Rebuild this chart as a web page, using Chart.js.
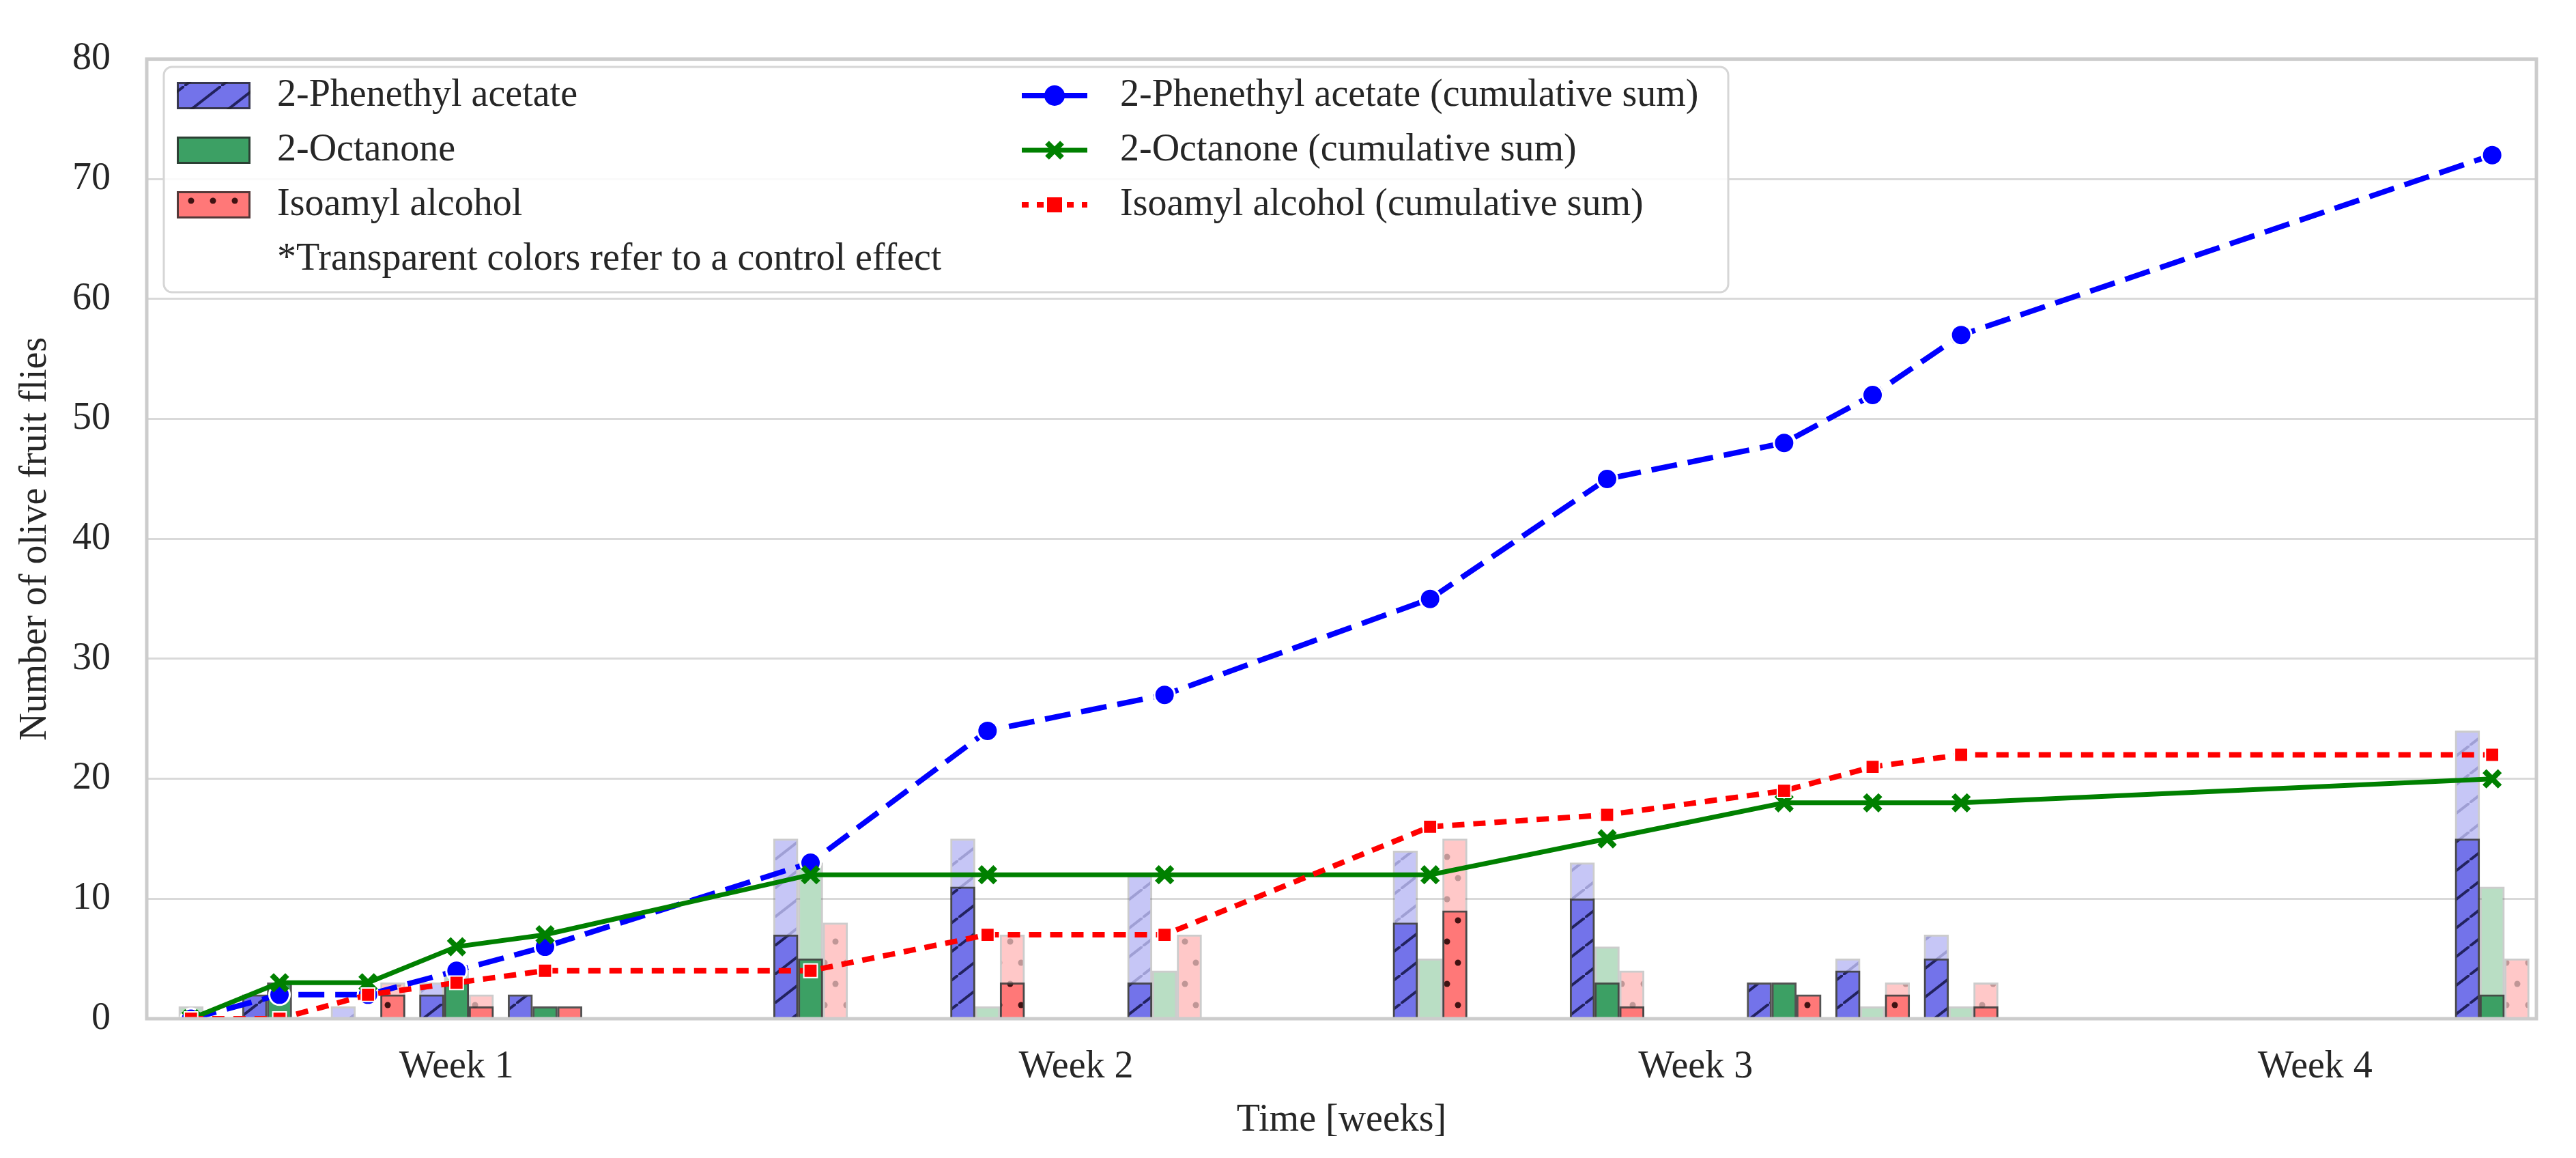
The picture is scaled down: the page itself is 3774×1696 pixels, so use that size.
<!DOCTYPE html>
<html>
<head>
<meta charset="utf-8">
<script src="https://cdn.jsdelivr.net/npm/chart.js@4.4.1/dist/chart.umd.min.js"></script>
<style>
  html, body { margin: 0; padding: 0; background: #ffffff; }
  #chart { display: block; }
</style>
</head>
<body>
<canvas id="chart" width="3774" height="1696"></canvas>
<script>
// Sampling days (x axis is in days, labelled by week)
const days = [0, 1, 2, 3, 4, 7, 9, 11, 14, 16, 18, 19, 20, 26];

// Flies caught per sampling day (treatment, solid bars)
const phenethylCounts = [0, 2, 0, 2, 2, 7, 11, 3, 8, 10, 3, 4, 5, 15];
const octanoneCounts  = [0, 3, 0, 3, 1, 5, 0, 0, 0, 3, 3, 0, 0, 2];
const isoamylCounts   = [0, 0, 2, 1, 1, 0, 3, 0, 9, 1, 2, 2, 1, 0];

// Control captures (transparent bars)
const phenethylControl = [0, 0, 1, 3, 0, 15, 15, 12, 14, 13, 0, 5, 7, 24];
const octanoneControl  = [1, 0, 0, 4, 0, 13, 1, 4, 5, 6, 0, 1, 1, 11];
const isoamylControl   = [0, 0, 3, 2, 0, 8, 7, 7, 15, 4, 0, 3, 3, 5];

// Cumulative sums (lines)
const phenethylCumulative = [0, 2, 2, 4, 6, 13, 24, 27, 35, 45, 48, 52, 57, 72];
const octanoneCumulative  = [0, 3, 3, 6, 7, 12, 12, 12, 12, 15, 18, 18, 18, 20];
const isoamylCumulative   = [0, 0, 2, 3, 4, 4, 7, 7, 16, 17, 19, 21, 22, 22];

// Axis ticks
const weekTickDays = [3, 10, 17, 24];
const weekTickLabels = ['Week 1', 'Week 2', 'Week 3', 'Week 4'];

// Legend texts
const barLegendLabels = ['2-Phenethyl acetate', '2-Octanone', 'Isoamyl alcohol'];
const lineLegendLabels = ['2-Phenethyl acetate (cumulative sum)', '2-Octanone (cumulative sum)', 'Isoamyl alcohol (cumulative sum)'];
const legendNote = '*Transparent colors refer to a control effect';

const FONT = '"Liberation Serif", "Times New Roman", serif';
const FONT_SIZE = 56;
const TEXT_COLOR = '#262626';
const BAR_OFFSET = 0.28;   // days between neighbouring bars of a group
const BAR_PX = 36;

// ---- fill patterns ----
function hatchPattern(fill, stroke) {
    const w = 54, h = 42;
    const c = document.createElement('canvas');
    c.width = w; c.height = h;
    const g = c.getContext('2d');
    g.fillStyle = fill;
    g.fillRect(0, 0, w, h);
    g.strokeStyle = stroke;
    g.lineWidth = 4;
    g.beginPath();
    for (const k of [-1, 0, 1]) {
        g.moveTo(k * w, h - k * h);
        g.lineTo(k * w + w, -k * h);
    }
    g.stroke();
    return g.createPattern(c, 'repeat');
}

function dotPattern(fill, dot) {
    const w = 32, h = 62;
    const c = document.createElement('canvas');
    c.width = w; c.height = h;
    const g = c.getContext('2d');
    g.fillStyle = fill;
    g.fillRect(0, 0, w, h);
    g.fillStyle = dot;
    [[8, 15], [24, 46]].forEach(([x, y]) => {
        g.beginPath();
        g.arc(x, y, 4.5, 0, Math.PI * 2);
        g.fill();
    });
    return g.createPattern(c, 'repeat');
}

const blueSolid = hatchPattern('#7373ea', 'rgba(20,20,70,0.85)');
const blueLight = hatchPattern('#c6c6f6', 'rgba(110,110,170,0.45)');
const greenSolid = '#3ca064';
const greenLight = '#b9dec4';
const redSolid = dotPattern('#ff7878', 'rgba(30,0,0,0.85)');
const redLight = dotPattern('#ffc8c8', 'rgba(140,110,110,0.55)');

const solidBorder = 'rgba(40,40,40,0.8)';
const lightBorder = 'rgba(110,110,110,0.35)';

function barData(values, offset) {
    return days.map((d, i) => ({ x: d + offset, y: values[i] === 0 ? null : values[i] }));
}
function lineData(values) {
    return days.map((d, i) => ({ x: d, y: values[i] }));
}

function barSet(label, values, offset, fill, border, order) {
    return {
        type: 'bar',
        label: label,
        data: barData(values, offset),
        backgroundColor: fill,
        borderColor: border,
        borderWidth: 3,
        barThickness: BAR_PX,
        grouped: false,
        order: order
    };
}

const datasets = [
    // cumulative lines
    {
        type: 'line', label: lineLegendLabels[2], data: lineData(isoamylCumulative),
        borderColor: '#ff0000', borderWidth: 8, borderDash: [18, 13],
        pointStyle: 'rect', pointRadius: 14, pointBackgroundColor: '#ff0000',
        pointBorderColor: '#ffffff', pointBorderWidth: 2,
        tension: 0, fill: false, order: 0, clip: 0
    },
    {
        type: 'line', label: lineLegendLabels[1], data: lineData(octanoneCumulative),
        borderColor: '#008000', borderWidth: 7,
        pointStyle: 'crossRot', pointRadius: 16, pointBackgroundColor: '#008000',
        pointBorderColor: '#008000', pointBorderWidth: 8,
        tension: 0, fill: false, order: 1, clip: 0
    },
    {
        type: 'line', label: lineLegendLabels[0], data: lineData(phenethylCumulative),
        borderColor: '#0000ff', borderWidth: 8, borderDash: [38, 16],
        pointStyle: 'circle', pointRadius: 15, pointBackgroundColor: '#0000ff',
        pointBorderColor: '#ffffff', pointBorderWidth: 3,
        tension: 0, fill: false, order: 2, clip: 0
    },
    // treatment bars
    barSet(barLegendLabels[0], phenethylCounts, -BAR_OFFSET, blueSolid, solidBorder, 3),
    barSet(barLegendLabels[1], octanoneCounts, 0, greenSolid, solidBorder, 3),
    barSet(barLegendLabels[2], isoamylCounts, BAR_OFFSET, redSolid, solidBorder, 3),
    // control bars
    barSet(barLegendLabels[0] + ' control', phenethylControl, -BAR_OFFSET, blueLight, lightBorder, 4),
    barSet(barLegendLabels[1] + ' control', octanoneControl, 0, greenLight, lightBorder, 4),
    barSet(barLegendLabels[2] + ' control', isoamylControl, BAR_OFFSET, redLight, lightBorder, 4)
];

// frame around the plot area
const framePlugin = {
    id: 'frame',
    afterDatasetsDraw(chart) {
        const { ctx, chartArea: a } = chart;
        ctx.save();
        ctx.strokeStyle = '#cccccc';
        ctx.lineWidth = 5;
        ctx.strokeRect(a.left, a.top, a.right - a.left, a.bottom - a.top);
        ctx.restore();
    }
};

// two column legend drawn inside the plot
const legendPlugin = {
    id: 'twoColLegend',
    afterDraw(chart) {
        const ctx = chart.ctx;
        const rows = [140, 220, 300, 380];
        ctx.save();
        ctx.beginPath();
        ctx.roundRect(240, 98, 2292, 330, 12);
        ctx.fillStyle = 'rgba(255,255,255,0.85)';
        ctx.fill();
        ctx.strokeStyle = '#d6d6d6';
        ctx.lineWidth = 3;
        ctx.stroke();

        // bar patches
        const fills = [blueSolid, greenSolid, redSolid];
        fills.forEach((f, i) => {
            ctx.fillStyle = f;
            ctx.fillRect(259, rows[i] - 20, 108, 40);
            ctx.strokeStyle = solidBorder;
            ctx.lineWidth = 3;
            ctx.strokeRect(260.5, rows[i] - 18.5, 105, 37);
        });

        ctx.font = FONT_SIZE + 'px ' + FONT;
        ctx.fillStyle = TEXT_COLOR;
        ctx.textBaseline = 'middle';
        ctx.textAlign = 'left';
        barLegendLabels.forEach((t, i) => ctx.fillText(t, 406, rows[i]));
        ctx.fillText(legendNote, 406, rows[3]);

        // line handles
        const x0 = 1497, x1 = 1593, xc = 1545;
        // blue
        ctx.strokeStyle = '#0000ff'; ctx.lineWidth = 8; ctx.setLineDash([]);
        ctx.beginPath(); ctx.moveTo(x0, rows[0]); ctx.lineTo(x1, rows[0]); ctx.stroke();
        ctx.beginPath(); ctx.arc(xc, rows[0], 15, 0, Math.PI * 2);
        ctx.fillStyle = '#0000ff'; ctx.fill();
        // green
        ctx.strokeStyle = '#008000'; ctx.lineWidth = 7;
        ctx.beginPath(); ctx.moveTo(x0, rows[1]); ctx.lineTo(x1, rows[1]); ctx.stroke();
        ctx.lineWidth = 8;
        ctx.beginPath();
        ctx.moveTo(xc - 11, rows[1] - 11); ctx.lineTo(xc + 11, rows[1] + 11);
        ctx.moveTo(xc + 11, rows[1] - 11); ctx.lineTo(xc - 11, rows[1] + 11);
        ctx.stroke();
        // red
        ctx.strokeStyle = '#ff0000'; ctx.lineWidth = 8; ctx.setLineDash([10, 12]);
        ctx.beginPath(); ctx.moveTo(x0, rows[2]); ctx.lineTo(x1, rows[2]); ctx.stroke();
        ctx.setLineDash([]);
        ctx.fillStyle = '#ff0000';
        ctx.fillRect(xc - 11, rows[2] - 11, 22, 22);

        ctx.fillStyle = TEXT_COLOR;
        lineLegendLabels.forEach((t, i) => ctx.fillText(t, 1641, rows[i]));
        ctx.restore();
    }
};

new Chart(document.getElementById('chart'), {
    type: 'bar',
    data: { datasets: datasets },
    options: {
        responsive: false,
        animation: false,
        devicePixelRatio: 1,
        layout: { padding: { top: 73, right: 58, bottom: 0, left: 0 } },
        plugins: {
            legend: { display: false },
            tooltip: { enabled: false }
        },
        scales: {
            x: {
                type: 'linear',
                min: -0.5,
                max: 26.5,
                offset: false,
                grid: { display: false, drawTicks: false },
                border: { display: false },
                afterBuildTicks: (scale) => {
                    scale.ticks = weekTickDays.map(v => ({ value: v }));
                },
                afterFit: (scale) => { scale.height = 204; },
                ticks: {
                    autoSkip: false,
                    maxRotation: 0,
                    padding: 38,
                    color: TEXT_COLOR,
                    font: { family: FONT, size: FONT_SIZE },
                    callback: (value) => weekTickLabels[weekTickDays.indexOf(value)]
                },
                title: {
                    display: true,
                    text: 'Time [weeks]',
                    color: TEXT_COLOR,
                    font: { family: FONT, size: FONT_SIZE },
                    padding: { top: 0, bottom: 21 }
                }
            },
            y: {
                type: 'linear',
                min: 0,
                max: 80,
                grid: { color: '#d9d9d9', lineWidth: 3, drawTicks: false },
                border: { display: false },
                afterFit: (scale) => { scale.width = 215; },
                ticks: {
                    stepSize: 10,
                    padding: 53,
                    color: TEXT_COLOR,
                    font: { family: FONT, size: FONT_SIZE }
                },
                title: {
                    display: true,
                    text: 'Number of olive fruit flies',
                    color: TEXT_COLOR,
                    font: { family: FONT, size: FONT_SIZE },
                    padding: { top: 19, bottom: 0 }
                }
            }
        }
    },
    plugins: [framePlugin, legendPlugin]
});
</script>
</body>
</html>
